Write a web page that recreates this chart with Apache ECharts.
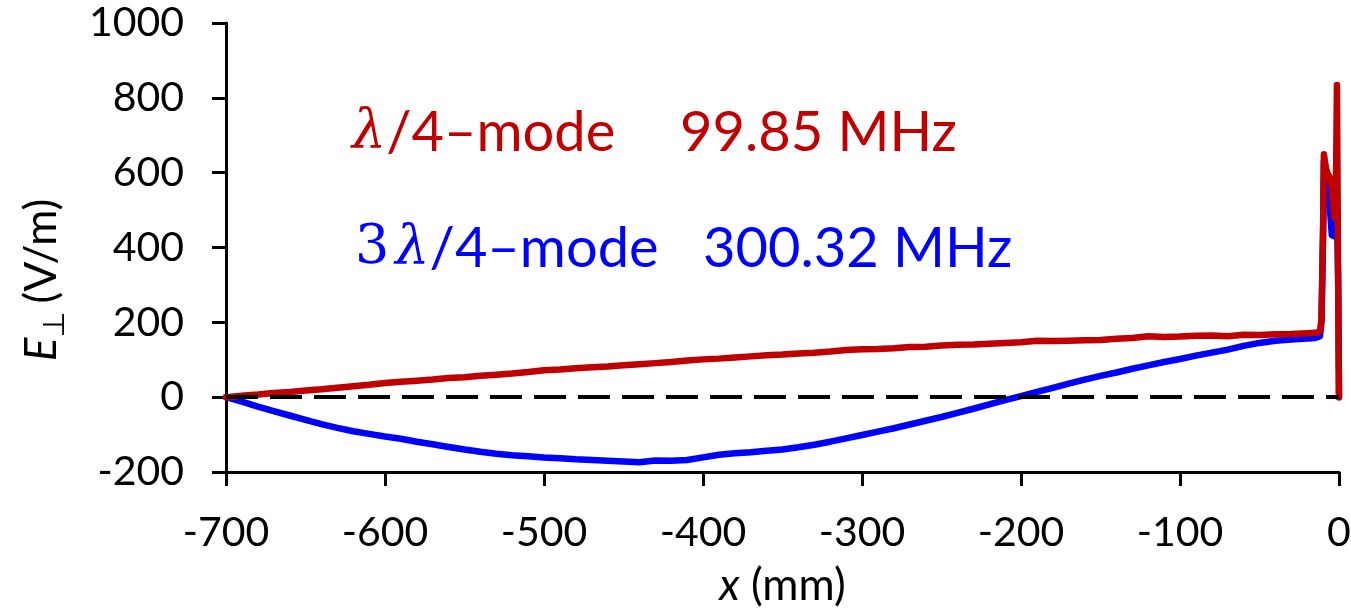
<!DOCTYPE html>
<html lang="en">
<head>
    <meta charset="UTF-8"/>
</head>
<body style="margin:0;background:#fff;">

<div id="main" style="width: 1351px;height:610px;"></div>

<script src="https://cdn.jsdelivr.net/npm/echarts@6/dist/echarts.min.js"></script>
<script type="text/javascript">

    // position along the resonator (mm)
    var xPos = [-700, -690, -680, -670, -660, -650, -640, -630, -620, -610,
        -600, -590, -580, -570, -560, -550, -540, -530, -520, -510,
        -500, -490, -480, -470, -460, -450, -440, -430, -420, -410,
        -400, -390, -380, -370, -360, -350, -340, -330, -320, -310,
        -300, -290, -280, -270, -260, -250, -240, -230, -220, -210,
        -200, -190, -180, -170, -160, -150, -140, -130, -120, -110,
        -100, -90, -80, -70, -60, -50, -40, -30, -20,
        -15, -12, -11, -10, -9.5, -8.5, -7.5, -6, -4.5, -3, -2, -1.3, -0.5, 0];

    // lambda/4 mode, 99.85 MHz (V/m)
    var quarterMode = [0, 4, 7, 11, 14, 18, 21, 25, 29, 33,
        38, 41, 44, 47, 51, 53, 57, 60, 63, 67,
        72, 74, 77, 80, 82, 85, 88, 91, 94, 98,
        101, 103, 106, 109, 112, 114, 117, 119, 122, 126,
        128, 129, 131, 134, 135, 138, 140, 141, 143, 145,
        147, 151, 150, 151, 152, 153, 156, 158, 163, 161,
        162, 164, 165, 163, 167, 166, 168, 169, 171,
        172, 175, 210, 450, 649, 620, 600, 590, 560, 480, 520, 834, 300, 0];

    // 3lambda/4 mode, 300.32 MHz (V/m)
    var threeQuarterMode = [0, -12, -25, -37, -49, -61, -72, -82, -91, -98,
        -105, -111, -119, -126, -133, -140, -146, -151, -155, -158,
        -161, -163, -166, -168, -170, -172, -174, -169, -170, -168,
        -161, -154, -150, -147, -143, -140, -134, -127, -119, -110,
        -101, -92, -83, -73, -63, -53, -42, -31, -19, -8,
        3, 14, 25, 36, 47, 57, 66, 76, 85, 94,
        102, 111, 119, 127, 137, 145, 151, 154, 157,
        158, 163, 200, 440, 630, 610, 590, 520, 433, 430, 440, 500, 300, 0];

    var xTicks = [-700, 0, 100];      // min, max, interval
    var yTicks = [-200, 1000, 200];

    function pairs(xs, ys) {
        var out = [];
        for (var i = 0; i < xs.length; i++) {
            out.push([xs[i], ys[i]]);
        }
        return out;
    }

    var myChart = echarts.init(document.getElementById('main'));

    var labelFont = 'Lato, "Noto Sans", sans-serif';

    var options = {
        animation: false,
        backgroundColor: '#ffffff',
        grid: {
            left: 226,
            right: 12,
            top: 23,
            bottom: 138,
            outerBoundsMode: 'none'
        },
        xAxis: {
            type: 'value',
            min: xTicks[0],
            max: xTicks[1],
            interval: xTicks[2],
            axisLine: {onZero: false, lineStyle: {color: '#000', width: 3}},
            axisTick: {show: true, inside: false, length: 14, lineStyle: {color: '#000', width: 3}},
            axisLabel: {color: '#000', fontSize: 41, fontFamily: labelFont, margin: 40,
                formatter: function (v) { return String(v); }},
            splitLine: {show: false},
            name: '{i|x} (mm)',
            nameLocation: 'middle',
            nameGap: 92,
            nameTextStyle: {
                color: '#000', fontSize: 44, fontFamily: labelFont,
                rich: {
                    i: {fontStyle: 'italic', fontSize: 44, fontFamily: labelFont, color: '#000'}
                }
            }
        },
        yAxis: {
            type: 'value',
            min: yTicks[0],
            max: yTicks[1],
            interval: yTicks[2],
            axisLine: {show: true, onZero: false, lineStyle: {color: '#000', width: 3}},
            axisTick: {show: true, inside: false, length: 14, lineStyle: {color: '#000', width: 3}},
            axisLabel: {color: '#000', fontSize: 41, fontFamily: labelFont, margin: 42,
                formatter: function (v) { return String(v); }},
            splitLine: {show: false}
        },
        graphic: [
            {
                type: 'text',
                x: 42,
                y: 280,
                rotation: Math.PI / 2,
                style: {
                    text: '{e|E}{s|⊥}{n|(V/m)}',
                    align: 'center',
                    verticalAlign: 'middle',
                    rich: {
                        e: {fontSize: 44, fontStyle: 'italic', fontFamily: labelFont, fill: '#000', lineHeight: 58, verticalAlign: 'middle'},
                        s: {fontSize: 30, fontFamily: '"DejaVu Sans", sans-serif', fill: '#000', lineHeight: 58, verticalAlign: 'bottom', padding: [0, 8, 0, 0]},
                        n: {fontSize: 44, fontFamily: labelFont, fill: '#000', lineHeight: 58, verticalAlign: 'middle'}
                    }
                }
            },
            {
                type: 'text',
                x: 352,
                y: 133,
                style: {
                    text: '{l|λ}{t|/4–mode}',
                    verticalAlign: 'middle',
                    rich: {
                        l: {fontSize: 54, fontStyle: 'italic', fontFamily: '"DejaVu Serif", serif', fill: '#C00000'},
                        t: {fontSize: 56, fontFamily: labelFont, fill: '#C00000'}
                    }
                }
            },
            {
                type: 'text',
                x: 680,
                y: 133,
                style: {
                    text: '99.85 MHz',
                    verticalAlign: 'middle',
                    font: '56px ' + labelFont,
                    fill: '#C00000'
                }
            },
            {
                type: 'text',
                x: 355,
                y: 249,
                style: {
                    text: '{n|3}{l|λ}{t|/4–mode}',
                    verticalAlign: 'middle',
                    rich: {
                        n: {fontSize: 54, fontFamily: '"DejaVu Serif", serif', fill: '#0000FF', padding: [0, 6, 0, 0]},
                        l: {fontSize: 54, fontStyle: 'italic', fontFamily: '"DejaVu Serif", serif', fill: '#0000FF'},
                        t: {fontSize: 56, fontFamily: labelFont, fill: '#0000FF'}
                    }
                }
            },
            {
                type: 'text',
                x: 703,
                y: 249,
                style: {
                    text: '300.32 MHz',
                    verticalAlign: 'middle',
                    font: '56px ' + labelFont,
                    fill: '#0000FF'
                }
            }
        ],
        series: [
            {
                name: '3λ/4-mode',
                type: 'line',
                data: pairs(xPos, threeQuarterMode),
                showSymbol: false,
                symbol: 'none',
                lineStyle: {color: '#0000FF', width: 6.5, join: 'round', cap: 'round'},
                markLine: {
                    silent: true,
                    symbol: ['none', 'none'],
                    label: {show: false},
                    lineStyle: {color: '#000', width: 4, type: [32, 12]},
                    data: [{yAxis: 0}]
                },
                z: 2
            },
            {
                name: 'λ/4-mode',
                type: 'line',
                data: pairs(xPos, quarterMode),
                showSymbol: false,
                symbol: 'none',
                lineStyle: {color: '#C00000', width: 6.5, join: 'round', cap: 'round'},
                z: 3
            }
        ]
    };

    myChart.setOption(options);

</script>

</body>
</html>
